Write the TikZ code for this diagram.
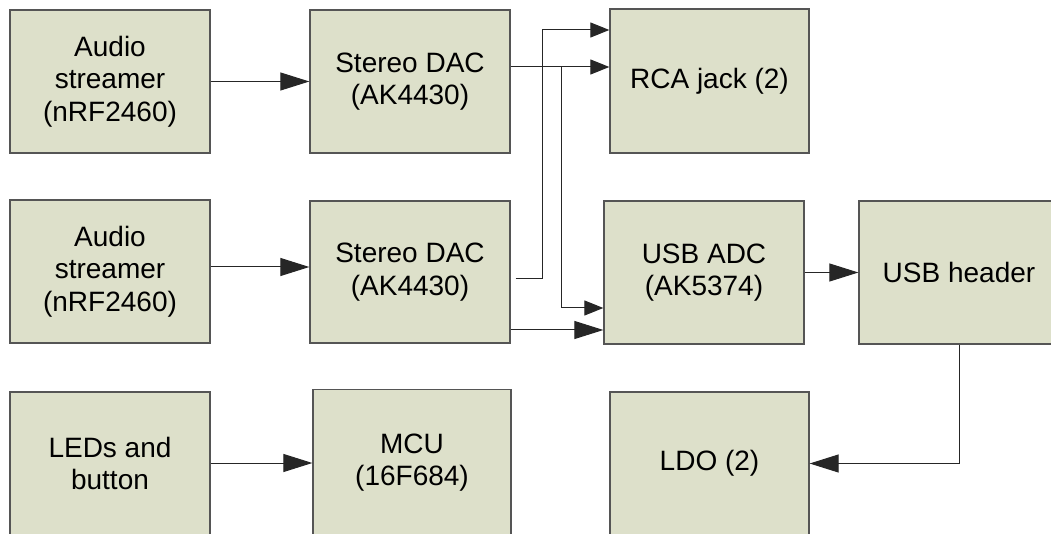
\documentclass[tikz,border=0pt]{standalone}
\usepackage{fontspec}
\setmainfont{Liberation Sans}
\usetikzlibrary{arrows.meta}
\definecolor{boxfill}{RGB}{221,224,202}
\definecolor{boxline}{RGB}{85,85,85}
\begin{document}
\begin{tikzpicture}[x=1pt,y=1pt,
  blk/.style={draw=boxline, line width=1.3pt, fill=boxfill, rectangle, align=center,
    inner sep=0pt, font=\fontsize{28}{32.5}\selectfont},
  conn/.style={draw=black!85, line width=1pt},
  big/.style={conn, -{Triangle[length=29pt,width=18pt]}},
  small/.style={conn, -{Triangle[length=19pt,width=15pt]}}]
\useasboundingbox (0,0) rectangle (1051,533);
\fill[white] (0,0) rectangle (1051,533);
\node[blk, minimum width=200pt, minimum height=143pt] (a1) at (110,451.5) {Audio\\streamer\\(nRF2460)};
\node[blk, minimum width=200pt, minimum height=143pt] (d1) at (410,451.5) {Stereo DAC\\(AK4430)};
\node[blk, minimum width=199pt, minimum height=144pt] (rca) at (709.5,452) {RCA jack (2)};
\node[blk, minimum width=200pt, minimum height=143pt] (a2) at (110,261.5) {Audio\\streamer\\(nRF2460)};
\node[blk, minimum width=200pt, minimum height=142pt] (d2) at (410,261) {Stereo DAC\\(AK4430)};
\node[blk, minimum width=200pt, minimum height=143pt] (adc) at (704,260.5) {USB ADC\\(AK5374)};
\node[blk, minimum width=200pt, minimum height=143pt] (usb) at (959,260.5) {USB header};
\node[blk, minimum width=200pt, minimum height=143pt] (led) at (110,69.5) {LEDs and\\button};
\node[blk, minimum width=198pt, minimum height=146pt] (mcu) at (412,70.5) {MCU\\(16F684)};
\node[blk, minimum width=199pt, minimum height=143pt] (ldo) at (709.5,69.5) {LDO (2)};
\coordinate (j1) at (542,503);
\coordinate (j2) at (561,466);
\coordinate (j3) at (561,225);
% connectors
\draw[big] (a1.east) -- (d1.west);
\draw[small] (d1.east |- j2) -- (rca.west |- j2);
\draw[small] ([xshift=5pt]d2.east |- 0,254) -| (j1) -- (rca.west |- j1);
\draw[small] (j2) -- (j3) -- (adc.west |- j3);
\draw[big] (a2.east |- 0,266) -- (d2.west |- 0,266);
\draw[big] (d2.east |- 0,203) -- (adc.west |- 0,203);
\draw[big] (adc.east) -- (usb.west);
\draw[big] (usb.south) |- (ldo.east);
\draw[big] (led.east |- 0,70) -- (mcu.west |- 0,70);
\end{tikzpicture}
\end{document}
